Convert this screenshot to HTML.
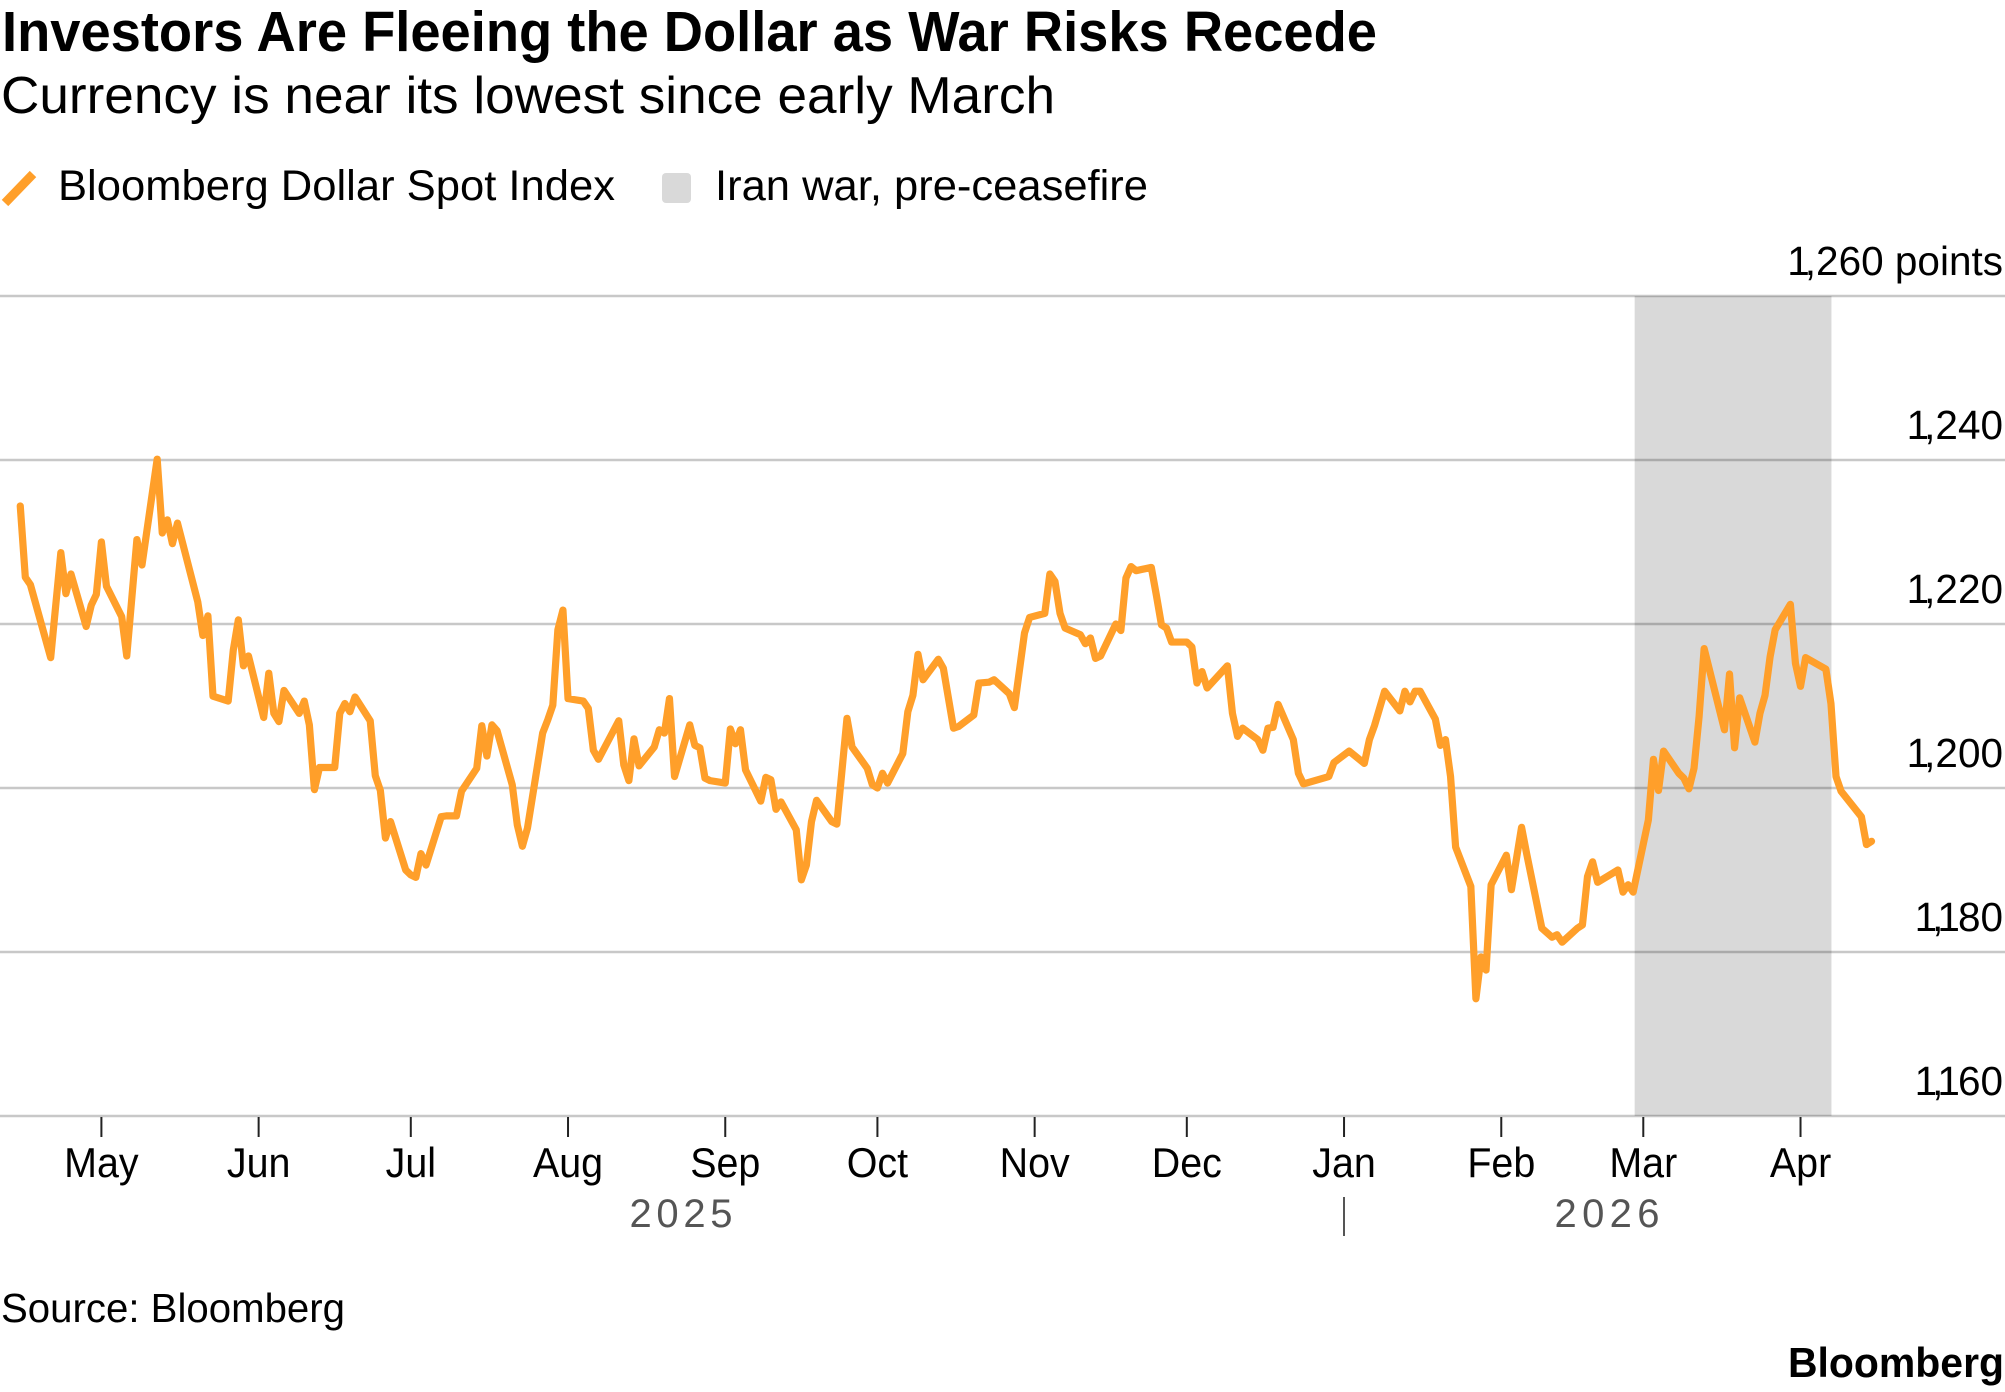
<!DOCTYPE html>
<html lang="en">
<head>
<meta charset="utf-8">
<title>Investors Are Fleeing the Dollar as War Risks Recede</title>
<style>
html,body{margin:0;padding:0;background:#fff;width:2005px;height:1392px;overflow:hidden}
svg{display:block}
text{font-family:"Liberation Sans",Arial,sans-serif;fill:#000}
</style>
</head>
<body>
<svg id="chart" xmlns="http://www.w3.org/2000/svg" width="2005" height="1392" viewBox="0 0 2005 1392">
  <rect x="0" y="0" width="2005" height="1392" fill="#fff"/>
  <text x="2" y="51" font-size="57" font-weight="700" textLength="1375" lengthAdjust="spacingAndGlyphs">Investors Are Fleeing the Dollar as War Risks Recede</text>
  <text x="1" y="113" font-size="52" textLength="1054" lengthAdjust="spacingAndGlyphs">Currency is near its lowest since early March</text>

  <g>
    <line x1="5" y1="203" x2="33" y2="174" stroke="#ff9f2a" stroke-width="9"/>
    <text x="58" y="200" font-size="43" textLength="557" lengthAdjust="spacingAndGlyphs">Bloomberg Dollar Spot Index</text>
    <rect x="662" y="173" width="29" height="30" rx="4" fill="#d9d9d9"/>
    <text x="715" y="200" font-size="43" textLength="433" lengthAdjust="spacingAndGlyphs">Iran war, pre-ceasefire</text>
  </g>

  <g id="grid"></g>
  <g id="ylabels"></g>
  <g id="band"></g>
  <g id="xaxis"></g>
  <g id="series"></g>

  <text x="629.5" y="1227" font-size="40" style="fill:#555" textLength="103" lengthAdjust="spacing">2025</text>
  <line x1="1344" y1="1197" x2="1344" y2="1236" stroke="#555" stroke-width="2"/>
  <text x="1554.5" y="1227" font-size="40" style="fill:#555" textLength="105" lengthAdjust="spacing">2026</text>

  <text x="1" y="1322" font-size="41" textLength="344" lengthAdjust="spacingAndGlyphs">Source: Bloomberg</text>
  <text x="1788" y="1377" font-size="42" font-weight="700" textLength="216" lengthAdjust="spacingAndGlyphs">Bloomberg</text>
</svg>
<script>
// Calendar days counted from 1 May 2025
const days = [
  -16,-15,-14,-10,-8,-7,-6,-3,-2,-1,
  0,1,4,5,7,8,11,12,13,14,
  15,19,20,21,22,25,26,27,28,29,
  32,33,34,35,36,39,40,41,42,43,
  46,47,48,49,50,53,54,55,56,57,
  60,61,62,63,64,67,68,70,71,74,
  75,76,77,78,81,82,83,84,87,88,
  89,90,91,92,95,96,97,98,102,103,
  104,105,106,109,110,111,112,113,116,117,
  118,119,120,123,124,125,126,127,130,131,
  132,133,134,137,138,139,140,141,144,145,
  147,148,151,152,153,154,155,158,159,160,
  161,162,165,166,168,169,172,173,175,176,
  179,180,182,183,186,187,188,189,190,193,
  194,195,196,197,200,201,202,203,204,207,
  208,209,210,211,214,215,216,217,218,222,
  223,224,225,228,229,230,231,232,235,236,
  237,242,243,246,249,250,251,253,256,257,
  258,259,260,263,264,265,266,267,270,271,
  272,273,274,277,278,280,281,284,286,287,
  288,291,292,293,294,295,299,300,301,302,
  305,306,307,308,311,312,313,314,315,316,
  320,321,322,323,326,327,328,329,330,333,
  334,335,336,340,341,342,343,347,348,349
];
const values = [
  1234.4,1225.7,1224.8,1215.9,1228.7,1223.7,1226.1,1219.7,1222.3,1223.6,
  1230.0,1224.6,1220.9,1216.1,1230.3,1227.2,1240.1,1231.1,1232.7,1229.8,
  1232.3,1222.7,1218.6,1221.0,1211.2,1210.6,1216.8,1220.5,1214.9,1216.1,
  1208.6,1214.0,1209.1,1208.1,1211.9,1209.1,1210.6,1207.7,1199.8,1202.5,
  1202.5,1209.1,1210.3,1209.3,1211.1,1208.2,1201.5,1199.7,1193.9,1195.9,
  1190.0,1189.4,1189.1,1192.0,1190.6,1196.5,1196.6,1196.6,1199.6,1202.4,
  1207.6,1203.9,1207.7,1207.0,1200.4,1195.5,1192.9,1195.1,1206.7,1208.3,
  1210.1,1219.3,1221.7,1210.9,1210.6,1209.7,1204.6,1203.5,1208.2,1202.8,
  1200.9,1206.0,1202.7,1205.0,1207.1,1206.7,1210.9,1201.4,1207.7,1205.2,
  1204.9,1201.2,1200.9,1200.6,1207.2,1205.4,1207.1,1202.2,1198.4,1201.3,
  1201.0,1197.4,1198.3,1194.9,1188.8,1190.6,1195.9,1198.5,1195.9,1195.6,
  1208.5,1205.0,1202.4,1200.4,1200.0,1201.8,1200.6,1204.2,1209.3,1211.3,
  1216.3,1213.2,1215.7,1214.6,1207.3,1207.5,1208.9,1212.8,1212.9,1213.2,
  1211.5,1209.8,1218.9,1220.8,1221.3,1226.1,1225.2,1221.3,1219.5,1218.7,
  1217.6,1218.3,1215.8,1216.1,1220.0,1219.2,1225.6,1227.0,1226.5,1226.9,
  1223.5,1219.9,1219.5,1217.8,1217.8,1217.2,1212.8,1214.2,1212.2,1214.9,
  1209.1,1206.3,1207.3,1205.9,1204.6,1207.3,1207.4,1210.2,1205.9,1201.8,
  1200.5,1201.4,1203.1,1204.5,1203.0,1205.9,1207.6,1211.8,1209.4,1211.8,
  1210.5,1211.8,1211.8,1208.4,1205.2,1205.9,1201.4,1192.8,1188.0,1174.3,
  1179.4,1177.8,1188.2,1191.8,1187.6,1195.2,1192.0,1182.9,1181.8,1182.1,
  1181.2,1182.9,1183.3,1189.2,1191.0,1188.5,1190.0,1187.3,1188.2,1187.3,
  1196.1,1203.5,1199.7,1204.5,1201.8,1201.2,1199.9,1202.4,1208.7,1217.0,
  1207.1,1213.9,1204.9,1211.0,1205.6,1209.1,1211.3,1216.0,1219.3,1222.4,
  1215.2,1212.4,1215.9,1214.5,1210.3,1201.4,1199.6,1196.5,1193.1,1193.5
];
const monthLabels = ["May","Jun","Jul","Aug","Sep","Oct","Nov","Dec","Jan","Feb","Mar","Apr"];
const monthDays = [0,31,61,92,123,153,184,214,245,276,304,335];
const yTicks = [1160,1180,1200,1220,1240,1260];
const yTickLabels = ["1,160","1,180","1,200","1,220","1,240","1,260 points"];
const warBandDays = [302.3,341.1];

const SVGNS = "http://www.w3.org/2000/svg";
function xScale(day){ return 101.4 + day * 5.072; }
function yScale(v){ return 1116 - (v - 1160) * 8.2; }
function make(tag, parent, attrs){
  const el = document.createElementNS(SVGNS, tag);
  for (const k in attrs) el.setAttribute(k, attrs[k]);
  parent.appendChild(el);
  return el;
}
// The reference face sets the numeral 1 tighter than Liberation Sans does.
function tightOnes(s){
  return s.split("").map(function(c, i){
    if (i === 0) return "0";
    if (c === "1" && s[i-1] === ",") return "-6";
    if (c === "," && s[i-1] === "1") return "-5";
    if (s[i-1] === "1") return "-2";
    return "0";
  }).join(" ");
}

const gridG = document.getElementById("grid");
const yLabelG = document.getElementById("ylabels");
yTicks.forEach(function(t, i){
  const line = make("line", gridG, {x1:0, x2:2005, y1:yScale(t), y2:yScale(t), stroke:"#c8c8c8", "stroke-width":2.6});
  
  
  const label = make("text", yLabelG, {x:2003, y:yScale(t) - 21, "font-size":40.5, "text-anchor":"end", dx:tightOnes(yTickLabels[i])});
  label.textContent = yTickLabels[i];
  
  
});

const bandG = document.getElementById("band");
const bandRect = make("rect", bandG, {
  x: xScale(warBandDays[0]), y: yScale(1260),
  width: xScale(warBandDays[1]) - xScale(warBandDays[0]),
  height: yScale(1160) - yScale(1260),
  fill: "#000", "fill-opacity": 0.15
});



const xG = document.getElementById("xaxis");
monthLabels.forEach(function(m, i){
  const x = xScale(monthDays[i]);
  const tick = make("line", xG, {x1:x, x2:x, y1:1117, y2:1137, stroke:"#222", "stroke-width":2});
  
  
  const label = make("text", xG, {transform:"translate(" + x + " 1177) scale(0.95 1)", "font-size":41.5, "text-anchor":"middle"});
  label.textContent = m;
  
  
});

const seriesG = document.getElementById("series");
const d = days.map(function(day, i){
  return (i ? "L" : "M") + xScale(day).toFixed(2) + " " + yScale(values[i]).toFixed(2);
}).join("");
const path = make("path", seriesG, {d:d, fill:"none", stroke:"#ff9f2a", "stroke-width":7.2, "stroke-linejoin":"round", "stroke-linecap":"round"});


</script>
</body>
</html>
